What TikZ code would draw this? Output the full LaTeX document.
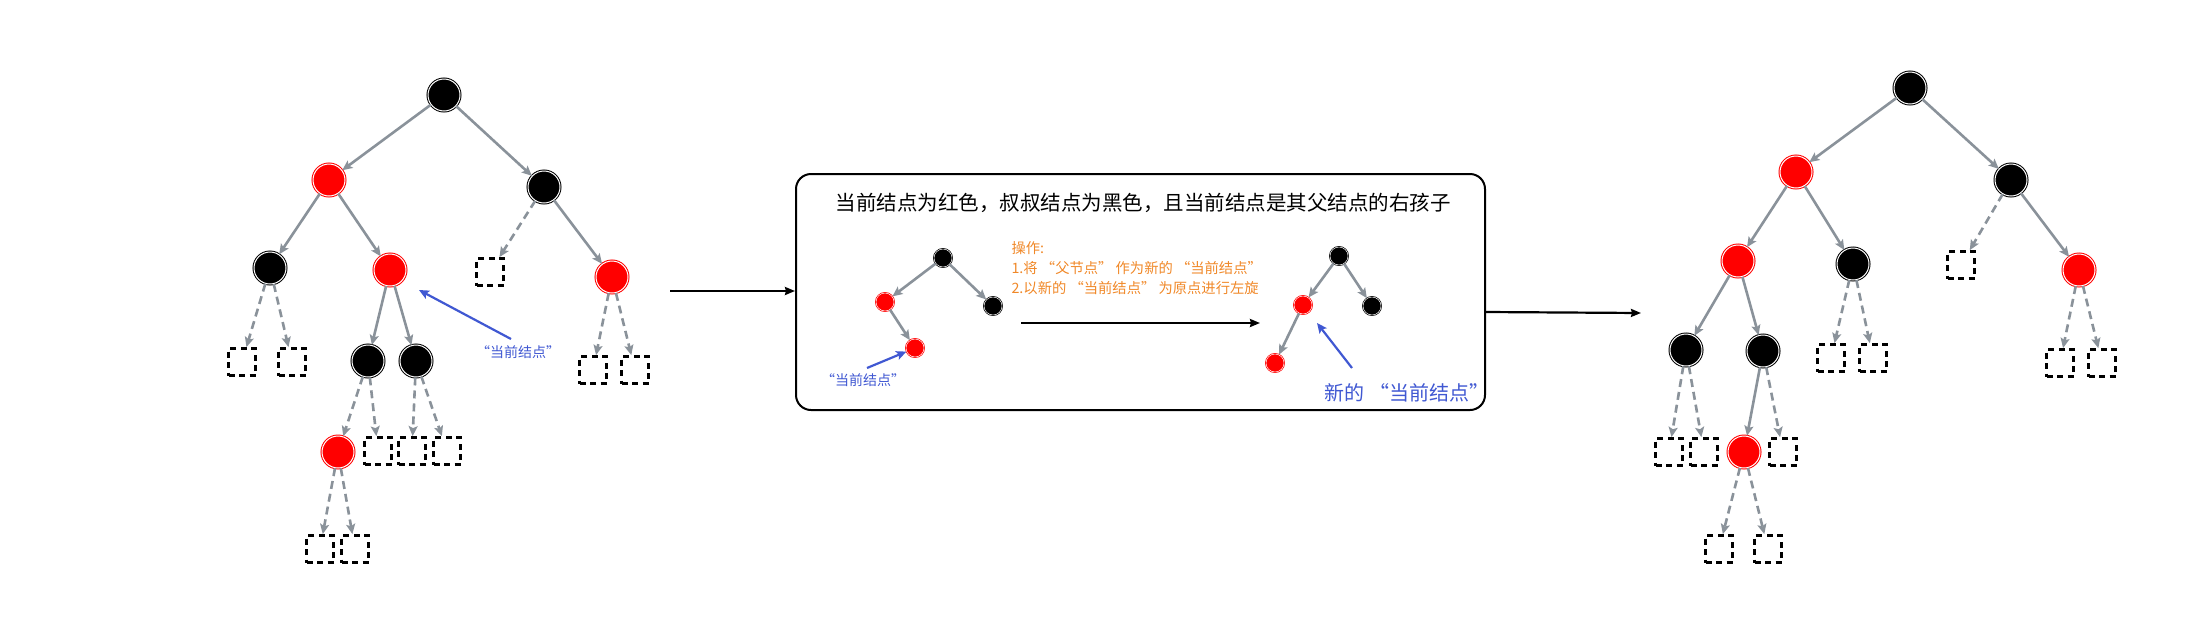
\documentclass[tikz,border=0pt]{standalone}
\usepackage{fontspec}
\setmainfont{Noto Sans CJK SC}
\usetikzlibrary{arrows.meta}

\definecolor{edgegray}{RGB}{138,146,154}
\definecolor{noteblue}{RGB}{64,88,210}
\definecolor{opsorange}{RGB}{240,136,40}

\tikzset{
    blknode/.style={circle, fill=black, draw=black, double=white, double distance=1pt, line width=1pt, minimum size=32pt, inner sep=0pt},
    rednode/.style={blknode, fill=red, draw=red},
    smallblk/.style={blknode, minimum size=18pt, double distance=0.5pt, line width=0.7pt},
    smallred/.style={rednode, minimum size=18pt, double distance=0.5pt, line width=0.7pt},
    nilbox/.style={draw=black, line width=2.8pt, dash pattern=on 6pt off 4.5pt, minimum size=27pt, inner sep=0pt},
    treeedge/.style={-{Stealth[length=10pt, width=9pt, inset=2pt]}, edgegray, line width=2.6pt},
    niledge/.style={treeedge, dash pattern=on 8pt off 5pt},
    flowarrow/.style={-{Stealth[length=10pt, width=8pt, inset=1pt]}, black, line width=2.2pt},
    notearrow/.style={-{Stealth[length=10pt, width=9pt, inset=2pt]}, noteblue, line width=2.2pt}
}

\begin{document}
\begin{tikzpicture}[x=1pt, y=-1pt]
    \useasboundingbox (0,0) rectangle (2209,619);

    % Draw the tree before the step
    \node[blknode] (la) at (444,95) {};
    \node[rednode] (lb) at (329,180) {};
    \node[blknode] (lc) at (544,187) {};
    \node[blknode] (ld) at (270,268) {};
    \node[rednode] (le) at (390,270) {};
    \node[nilbox]  (lf) at (490,272) {};
    \node[rednode] (lg) at (612,277) {};
    \node[nilbox]  (ldl) at (242,362) {};
    \node[nilbox]  (ldr) at (292,362) {};
    \node[blknode] (li) at (368,361) {};
    \node[blknode] (lj) at (416,361) {};
    \node[nilbox]  (lgl) at (593,370) {};
    \node[nilbox]  (lgr) at (635,370) {};
    \node[rednode] (ll) at (338,452) {};
    \node[nilbox]  (lir) at (378,451) {};
    \node[nilbox]  (ljl) at (412,451) {};
    \node[nilbox]  (ljr) at (447,451) {};
    \node[nilbox]  (lll) at (320,549) {};
    \node[nilbox]  (llr) at (355,549) {};

    \draw[treeedge] (la) -- (lb);
    \draw[treeedge] (la) -- (lc);
    \draw[treeedge] (lb) -- (ld);
    \draw[treeedge] (lb) -- (le);
    \draw[niledge]  (lc) -- (lf);
    \draw[treeedge] (lc) -- (lg);
    \draw[niledge]  (ld) -- (ldl);
    \draw[niledge]  (ld) -- (ldr);
    \draw[treeedge] (le) -- (li);
    \draw[treeedge] (le) -- (lj);
    \draw[niledge]  (lg) -- (lgl);
    \draw[niledge]  (lg) -- (lgr);
    \draw[niledge]  (li) -- (ll);
    \draw[niledge]  (li) -- (lir);
    \draw[niledge]  (lj) -- (ljl);
    \draw[niledge]  (lj) -- (ljr);
    \draw[niledge]  (ll) -- (lll);
    \draw[niledge]  (ll) -- (llr);

    % Current node note
    \node[noteblue, font=\fontsize{14}{16}\selectfont] (lnote) at (518,352) {“当前结点”};
    \coordinate (lnotestart) at (511,339);
    \coordinate (ltarget) at (419,290);
    \draw[notearrow] (lnotestart) -- (ltarget);

    % Draw the middle box
    \node[draw, line width=2pt, rounded corners=15pt, minimum width=689pt, minimum height=236pt] (box) at (1140.5,292) {};
    \node[font=\fontsize{20.5}{24}\selectfont] (title) at (1143,203) {当前结点为红色，叔叔结点为黑色，且当前结点是其父结点的右孩子};

    % Small tree before rotation
    \node[smallblk] (ma) at (943,258) {};
    \node[smallred] (mb) at (885,302) {};
    \node[smallblk] (mc) at (993,306) {};
    \node[smallred] (md) at (915,348) {};
    \draw[treeedge] (ma) -- (mb);
    \draw[treeedge] (ma) -- (mc);
    \draw[treeedge] (mb) -- (md);
    \node[noteblue, font=\fontsize{14}{16}\selectfont] (mnote) at (863,380) {“当前结点”};
    \coordinate (mnotestart) at (867,368);
    \draw[notearrow] (mnotestart) -- (md);

    % Operation text
    \node[opsorange, anchor=west, align=left, font=\fontsize{14.3}{20}\selectfont] (ops) at (1008,268) {操作:\\1.将 “父节点” 作为新的 “当前结点”\\2.以新的 “当前结点” 为原点进行左旋};
    \coordinate (opsstart) at (1021,323);
    \coordinate (opsend) at (1260,323);
    \draw[flowarrow] (opsstart) -- (opsend);

    % Small tree after rotation
    \node[smallblk] (na) at (1339,256) {};
    \node[smallred] (nb) at (1303,305) {};
    \node[smallblk] (nc) at (1372,306) {};
    \node[smallred] (nd) at (1275,363) {};
    \draw[treeedge] (na) -- (nb);
    \draw[treeedge] (na) -- (nc);
    \draw[treeedge] (nb) -- (nd);
    \node[noteblue, font=\fontsize{20}{24}\selectfont] (nnote) at (1407,393) {新的 “当前结点”};
    \coordinate (nnotestart) at (1352,368);
    \coordinate (ntarget) at (1317,323);
    \draw[notearrow] (nnotestart) -- (ntarget);

    % Arrows between the pictures
    \coordinate (leftstart) at (670,291);
    \draw[flowarrow] (leftstart) -- (leftstart -| box.west);
    \coordinate (rightend) at (1641,313);
    \draw[flowarrow] (box.east |- 0,312) -- (rightend);

    % Draw the tree after the step
    \node[blknode] (ra) at (1910,88) {};
    \node[rednode] (rb) at (1796,172) {};
    \node[blknode] (rc) at (2011,180) {};
    \node[rednode] (rd) at (1738,261) {};
    \node[blknode] (re) at (1853,264) {};
    \node[nilbox]  (rf) at (1961,265) {};
    \node[rednode] (rg) at (2079,270) {};
    \node[blknode] (rh) at (1686,350) {};
    \node[blknode] (ri) at (1763,351) {};
    \node[nilbox]  (rel) at (1831,358) {};
    \node[nilbox]  (rer) at (1873,358) {};
    \node[nilbox]  (rgl) at (2060,363) {};
    \node[nilbox]  (rgr) at (2102,363) {};
    \node[nilbox]  (rhl) at (1669,452) {};
    \node[nilbox]  (rhr) at (1704,452) {};
    \node[rednode] (rk) at (1744,452) {};
    \node[nilbox]  (rir) at (1783,452) {};
    \node[nilbox]  (rkl) at (1719,549) {};
    \node[nilbox]  (rkr) at (1768,549) {};

    \draw[treeedge] (ra) -- (rb);
    \draw[treeedge] (ra) -- (rc);
    \draw[treeedge] (rb) -- (rd);
    \draw[treeedge] (rb) -- (re);
    \draw[niledge]  (rc) -- (rf);
    \draw[treeedge] (rc) -- (rg);
    \draw[treeedge] (rd) -- (rh);
    \draw[treeedge] (rd) -- (ri);
    \draw[niledge]  (re) -- (rel);
    \draw[niledge]  (re) -- (rer);
    \draw[niledge]  (rg) -- (rgl);
    \draw[niledge]  (rg) -- (rgr);
    \draw[niledge]  (rh) -- (rhl);
    \draw[niledge]  (rh) -- (rhr);
    \draw[treeedge] (ri) -- (rk);
    \draw[niledge]  (ri) -- (rir);
    \draw[niledge]  (rk) -- (rkl);
    \draw[niledge]  (rk) -- (rkr);
\end{tikzpicture}
\end{document}
